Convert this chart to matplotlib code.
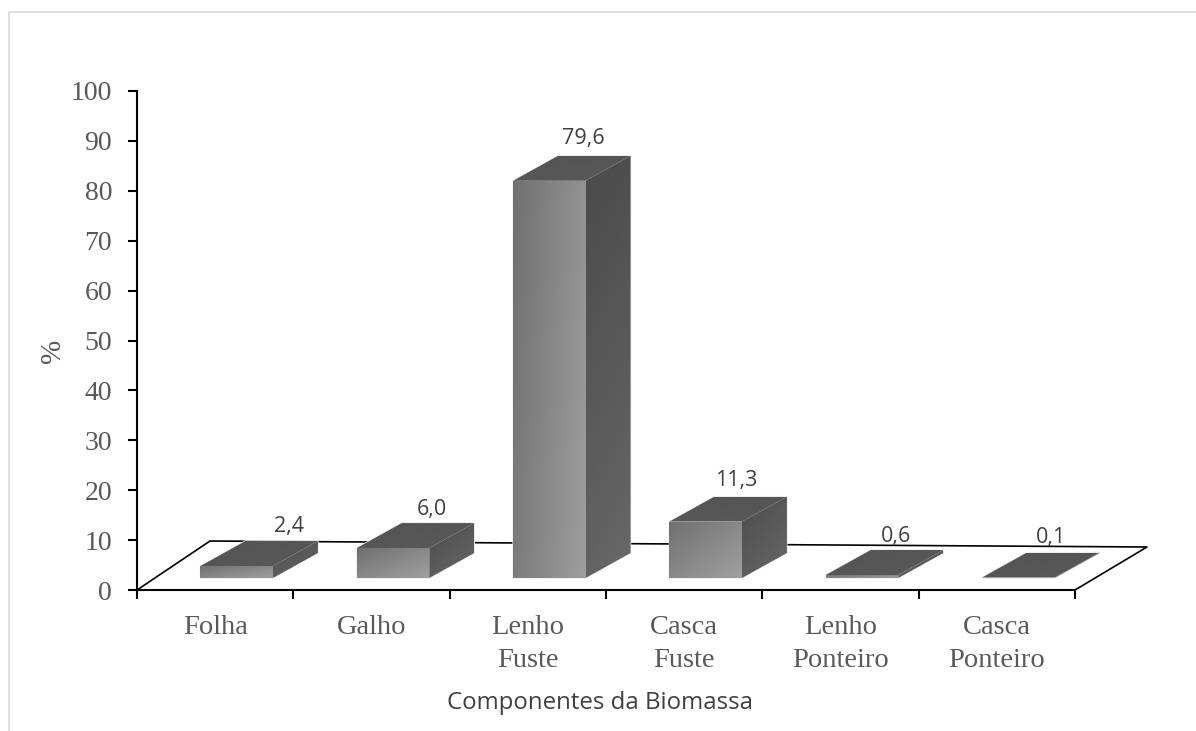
import numpy as np
import matplotlib
matplotlib.use('Agg')
import matplotlib.pyplot as plt
from matplotlib.patches import Polygon
from matplotlib.lines import Line2D

categories = ['Folha', 'Galho', 'Lenho\nFuste', 'Casca\nFuste', 'Lenho\nPonteiro', 'Casca\nPonteiro']
values = [2.4, 6.0, 79.6, 11.3, 0.6, 0.1]
value_labels = ['2,4', '6,0', '79,6', '11,3', '0,6', '0,1']
yticks = list(range(0, 101, 10))

W, H = 1196, 731
# pixels per unit of the axes
px_x = (1075 - 137) / 6
px_y = (590 - 91) / 100

bar_w = 72.5 / px_x
bar_shift = 21.5 / px_x
bar_base = 12 / px_y
depth_x = 45 / px_x
depth_y = 25 / px_y
# label offset from the bar centre / back top edge, in px
label_dx = [52, 39, 34, 31, 34, 33]
label_dy = [15, 14, 17, 16, 14, 15]


def grad_face(ax, pts, c0, c1, angle=0.0, z=3):
    # linear gradient clipped to a polygon, c0 at top-left and c1 at bottom-right
    pts = np.array(pts)
    xa, xb = pts[:, 0].min(), pts[:, 0].max()
    ya, yb = pts[:, 1].min(), pts[:, 1].max()
    u, v = np.meshgrid(np.linspace(0, 1, 60), np.linspace(0, 1, 60))
    t = (u * np.sin(angle) + v * np.cos(angle)) / (np.sin(angle) + np.cos(angle))
    im = ax.imshow(c0 + (c1 - c0) * t, extent=[xa, xb, ya, yb], origin='upper',
                   cmap='gray', vmin=0, vmax=255, aspect='auto', zorder=z,
                   interpolation='bilinear')
    poly = Polygon(pts, closed=True, transform=ax.transData, facecolor='none',
                   edgecolor='none', clip_on=False)
    ax.add_patch(poly)
    im.set_clip_box(fig.bbox)
    im.set_clip_path(poly)


fig = plt.figure(figsize=(W / 100, H / 100), dpi=100)
ax = fig.add_axes([137 / W, (H - 590) / H, (1075 - 137) / W, (590 - 91) / H])

# floor of the 3d chart
floor_l = (73 / px_x, 49 / px_y)
floor_r = (6 + 72 / px_x, 43 / px_y)
ax.plot([0, floor_l[0], floor_r[0], 6], [0, floor_l[1], floor_r[1], 0],
        color='black', lw=1.2, zorder=1, clip_on=False)

for i, v in enumerate(values):
    xc = i + 0.5 + bar_shift
    x0 = xc - bar_w / 2
    x1 = x0 + bar_w
    y0 = bar_base
    y1 = y0 + v
    front = [(x0, y0), (x1, y0), (x1, y1), (x0, y1)]
    side = [(x1, y0), (x1 + depth_x, y0 + depth_y), (x1 + depth_x, y1 + depth_y), (x1, y1)]
    top = [(x0, y1), (x1, y1), (x1 + depth_x, y1 + depth_y), (x0 + depth_x, y1 + depth_y)]
    # white halo round the block
    outline = [(x0, y0), (x1, y0), (x1 + depth_x, y0 + depth_y),
               (x1 + depth_x, y1 + depth_y), (x0 + depth_x, y1 + depth_y), (x0, y1)]
    ax.add_patch(Polygon(outline, closed=True, facecolor='white', edgecolor='#ececec',
                         lw=1.0, zorder=2, clip_on=False))
    if v > 50:
        grad_face(ax, front, 112, 158, angle=1.25)
        grad_face(ax, side, 74, 104, angle=0.2)
    else:
        grad_face(ax, front, 112, 160, angle=0.8)
        grad_face(ax, side, 76, 104, angle=0.6)
    grad_face(ax, top, 84, 88, angle=0.5)
    ax.text(xc + label_dx[i] / px_x, y1 + depth_y + label_dy[i] / px_y, value_labels[i],
            ha='center', va='center', fontsize=15.5, color='#404040',
            family='Open Sans', zorder=5, clip_on=False)

ax.set_xlim(0, 6)
ax.set_ylim(0, 100)
ax.set_yticks(yticks)
ax.set_xticks(range(7))
ax.set_xticklabels([])
ax.set_xticks(np.arange(6) + 0.5, minor=True)
ax.set_xticklabels(categories, minor=True, family='Liberation Serif', fontsize=20.5,
                   color='#595959', linespacing=1.43)
ax.tick_params(axis='x', which='minor', length=0, pad=18)
ax.tick_params(axis='both', which='major', length=6.5, width=1.5, color='black')
ax.tick_params(axis='y', pad=11.5, labelsize=20, labelcolor='#595959')
for lab in ax.get_yticklabels():
    lab.set_family('Liberation Serif')
for s in ['top', 'right']:
    ax.spines[s].set_visible(False)
for s in ['left', 'bottom']:
    ax.spines[s].set_linewidth(1.5)
    ax.spines[s].set_zorder(6)
ax.patch.set_alpha(0)

fig.text(53 / W, 1 - 351 / H, '%', rotation=90, ha='center', va='center',
         family='Liberation Serif', fontsize=21, color='#595959')
fig.text(600 / W, 1 - 703 / H, 'Componentes da Biomassa', ha='center', va='center',
         family='Open Sans', fontsize=17.3, color='#404040')

# frame of the pasted chart
fig.add_artist(Line2D([8.5 / W, 8.5 / W, 1], [0, 1 - 11.5 / H, 1 - 11.5 / H],
                      color='#d9d9d9', lw=1.2))

fig.savefig('out.png', dpi=100)
